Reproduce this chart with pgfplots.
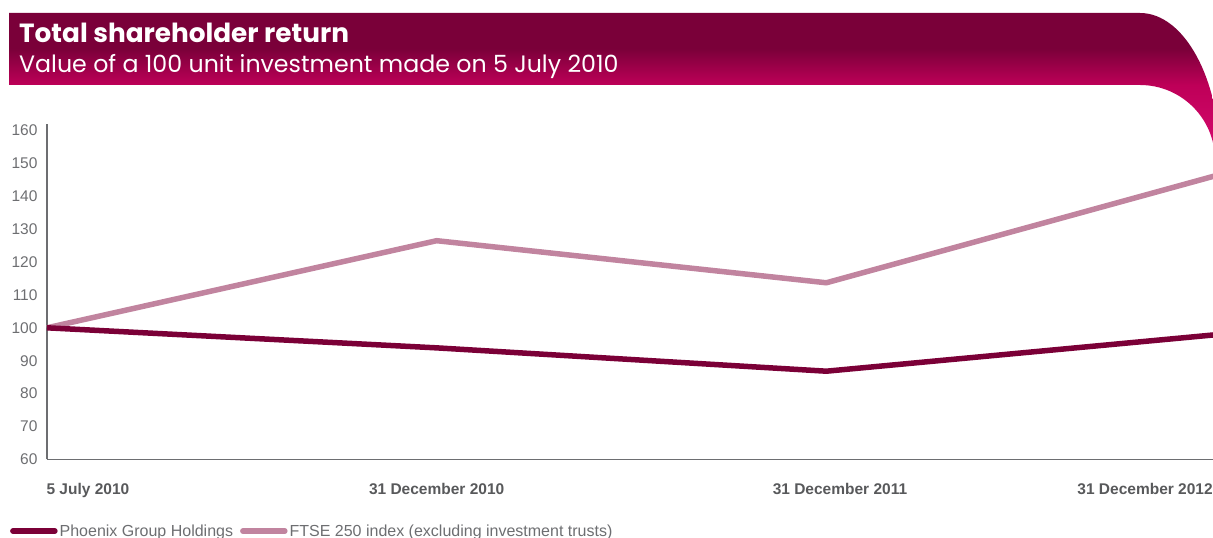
\documentclass[border=0pt]{standalone}
\usepackage{fontspec}
\setmainfont{Liberation Sans}
\newfontfamily\titlefont{Poppins}
\usepackage{pgfplots}
\pgfplotsset{compat=1.18}
\definecolor{phx}{HTML}{7B0037}
\definecolor{ftse}{HTML}{C1849F}
\definecolor{axgray}{HTML}{6D6E71}
\definecolor{lblgray}{HTML}{58595B}
\definecolor{bandA}{HTML}{7A0039}
\definecolor{bandB}{HTML}{BE0058}
\definecolor{bandC}{HTML}{D60A6E}
\pgfdeclareverticalshading{band}{100bp}{color(0bp)=(bandC); color(28.4bp)=(bandC); color(50.5bp)=(bandB); color(63bp)=(bandA); color(100bp)=(bandA)}
\begin{document}
\begin{tikzpicture}
\begin{scope}
\clip (0pt,0pt) rectangle (1213pt,538pt);
\shade[shading=band] (9pt,525pt) -- (1140pt,525pt) arc[start angle=90, end angle=0, x radius=80pt, y radius=147pt] -- (1215pt,378pt) arc[start angle=0, end angle=90, x radius=75pt, y radius=75pt] -- (9pt,453pt) -- cycle;
\node[anchor=base west, text=white, inner sep=0pt] at (19pt,495pt) {\titlefont\bfseries\fontsize{26.3}{30}\selectfont Total shareholder return};
\node[anchor=base west, text=white, inner sep=0pt] at (19pt,465pt) {\titlefont\fontsize{23.7}{28}\selectfont Value of a 100 unit investment made on 5 July 2010};
\begin{axis}[
  at={(47pt,78.7pt)}, anchor=south west,
  scale only axis, width=1169pt, height=335.3pt,
  xmin=0, xmax=3, ymin=60, ymax=162,
  axis x line=bottom, axis y line=left,
  axis line style={-, draw=axgray, line width=1.2pt},
  ytick={60,70,...,160},
  xtick={0.105,1,2.035,2.818},
  xticklabels={5 July 2010, 31 December 2010, 31 December 2011, 31 December 2012},
  major tick length=0pt,
  /pgf/number format/assume math mode=true,
  yticklabel style={font=\fontsize{15.5}{18}\selectfont, text=axgray, xshift=-6pt},
  xticklabel style={font=\bfseries\fontsize{15.5}{18}\selectfont, text=lblgray, yshift=-20pt},
  clip=false,
  legend columns=2,
  reverse legend,
  legend cell align=left,
  legend style={at={(-0.0317,-0.214)}, anchor=west, draw=none, fill=none, inner sep=0pt,
    font=\fontsize{16}{19}\selectfont, text=axgray,
    /tikz/column 2/.style={column sep=5pt}},
  legend image code/.code={\draw[#1, line cap=round] (0pt,0pt) -- (42pt,0pt);},
]
\addplot[ftse, line width=5.5pt, line join=round] coordinates {(0,100) (1,126.5) (2,113.7) (3,146.3)};
\addlegendentry{FTSE 250 index (excluding investment trusts)}
\addplot[phx, line width=5.5pt, line join=round] coordinates {(0,100) (1,93.9) (2,86.8) (3,97.9)};
\addlegendentry{Phoenix Group Holdings}
\end{axis}
\end{scope}
\pgfresetboundingbox
\useasboundingbox (0pt,0pt) rectangle (1213pt,538pt);
\end{tikzpicture}
\end{document}
